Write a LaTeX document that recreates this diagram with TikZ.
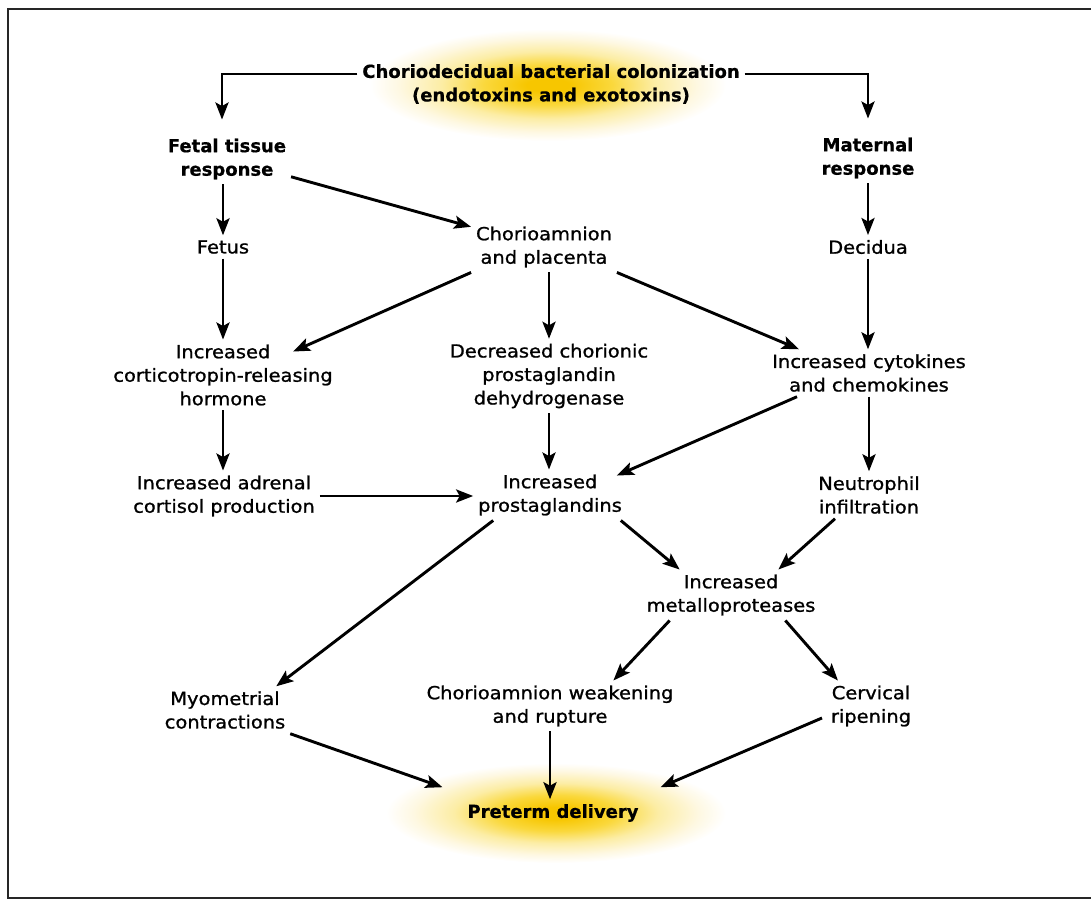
\documentclass[tikz,border=0pt]{standalone}
\usepackage{fontspec}
\setmainfont{DejaVu Sans}[FakeStretch=1.08, FakeBold=1.1]
\newfontfamily\headfont{DejaVu Sans}[FakeBold=0.6]
\usetikzlibrary{arrows.meta}
\definecolor{glowcore}{RGB}{247,198,0}
\definecolor{glowmid}{RGB}{250,216,60}
\definecolor{glowpale}{RGB}{252,237,165}
\definecolor{glowfaint}{RGB}{254,248,226}
\pgfdeclareradialshading{glow}{\pgfpoint{0bp}{0bp}}{color(0bp)=(glowcore); color(3bp)=(glowcore); color(9bp)=(glowmid); color(15bp)=(glowpale); color(21bp)=(glowfaint); color(25bp)=(white); color(50bp)=(white)}

\begin{document}
\begin{tikzpicture}[
  x=1pt, y=-1pt,
  every node/.style={font=\fontsize{18}{23.5}\selectfont, align=center, inner sep=2pt, outer sep=3pt},
  head/.style={font=\fontsize{18}{23.5}\selectfont\headfont\bfseries},
  flow/.style={line width=2.9pt, -{Stealth[length=17pt, width=13pt, inset=3.5pt]}},
  frame/.style={line width=2.4pt, black!85},
]
\useasboundingbox (0,0) rectangle (1091,900);

%%% Frame and glows %%%
\draw[frame] (8,9) rectangle (1100,898);
\shade[shading=glow] (548,85) ellipse (178 and 56);
\shade[shading=glow] (556,813) ellipse (170 and 50);

%%% Nodes %%%
\node[head] (src) at (551,84) {Choriodecidual bacterial colonization\\(endotoxins and exotoxins)};
\node[head] (fetal) at (227,159) {Fetal tissue\\response};
\node[head] (maternal) at (868,158) {Maternal\\response};

\node (fetus) at (223,247) {Fetus};
\node (chorio) at (544,247) {Chorioamnion\\and placenta};
\node (decidua) at (868,247) {Decidua};

\node (crh) at (223,375) {Increased\\corticotropin-releasing\\hormone};
\node (pgdh) at (549,376) {Decreased chorionic\\prostaglandin\\dehydrogenase};
\node (cyto) at (869,373) {Increased cytokines\\and chemokines};

\node (adrenal) at (224,496) {Increased adrenal\\cortisol production};
\node (pg) at (550,495) {Increased\\prostaglandins};
\node (neutro) at (869,495) {Neutrophil\\infiltration};

\node (mmp) at (731,595) {Increased\\metalloproteases};

\node (myo) at (225,710) {Myometrial\\contractions};
\node (weak) at (550,706) {Chorioamnion weakening\\and rupture};
\node (cerv) at (871,706) {Cervical\\ripening};

\node[head] (preterm) at (553,813) {Preterm delivery};

%%% Connectors %%%
% split from the colonization
\draw[flow] ([shift={(0,-10)}]src.west) -| ([shift={(-5,-14)}]fetal.north);
\draw[flow] ([shift={(0,-10)}]src.east) -| ([shift={(0,-14)}]maternal.north);

% fetal side
\draw[flow] (fetus.north |- fetal.south) -- (fetus.north);
\draw[flow] (fetal) -- (chorio);
\draw[flow] (fetus.south) -- (crh.north);
\draw[flow] (crh.south) -- (crh.south |- adrenal.north);
\draw[flow] (adrenal.east) -- (adrenal.east -| pg.west);

% chorioamnion and placenta
\draw[flow] (chorio.south west) -- ([shift={(70,12)}]crh.north);
\draw[flow] (pgdh.north |- chorio.south) -- (pgdh.north);
\draw[flow] (chorio.south east) -- ([xshift=-70pt]cyto.north);
\draw[flow] (pgdh.south) -- (pgdh.south |- pg.north);

% maternal side
\draw[flow] (maternal.south) -- (maternal.south |- decidua.north);
\draw[flow] (decidua.south) -- (decidua.south |- cyto.north);
\draw[flow] (cyto.south) -- (neutro.north);
\draw[flow] ([xshift=-72pt]cyto.south) -- ([shift={(-10,6)}]pg.north east);

% prostaglandins and metalloproteases
\draw[flow] ([xshift=20pt]pg.south west) -- ([xshift=-14pt]myo.north east);
\draw[flow] ([xshift=-6pt]pg.south east) -- ([xshift=38pt]mmp.north west);
\draw[flow] ([xshift=-34pt]neutro.south) -- ([xshift=-42pt]mmp.north east);
\draw[flow] ([xshift=28pt]mmp.south west) -- ([xshift=-65pt]weak.north east);
\draw[flow] ([xshift=-35pt]mmp.south east) -- ([xshift=12pt]cerv.north west);

% into preterm delivery
\draw[flow] (myo.south east) -- ([shift={(-20,-12)}]preterm.north west);
\draw[flow] (weak.south) -- (weak.south |- preterm.north);
\draw[flow] ([shift={(-4,12)}]cerv.west) -- ([shift={(17,-12)}]preterm.north east);

\end{tikzpicture}
\end{document}
